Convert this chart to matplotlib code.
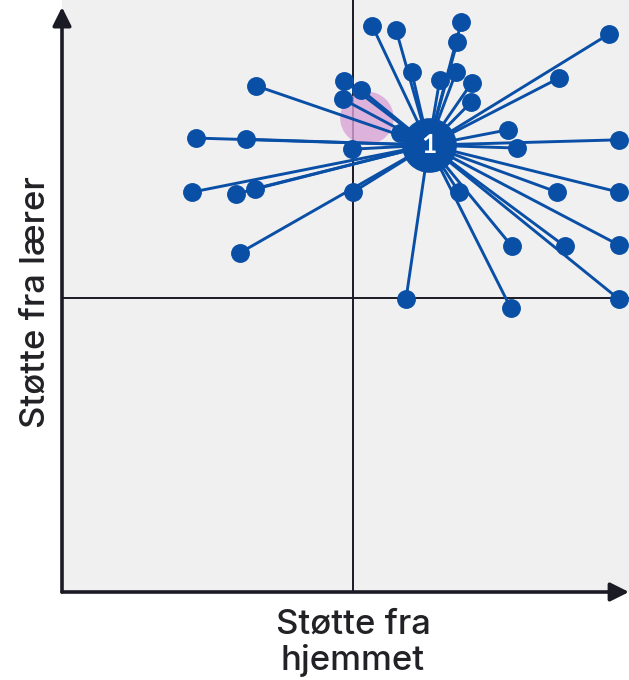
import matplotlib.pyplot as plt
from matplotlib.patches import Ellipse

# scores (home support, teacher support), divider at 5
hjem = [5.33, 5.74, 6.86, 6.79, 6.01, 6.49, 6.77, 7.04, 7.03, 9.40, 8.54, 3.33,
        4.85, 5.14, 4.83, 2.30, 3.16, 4.98, 7.66, 7.82, 9.57, 2.23, 2.99, 3.32,
        5.00, 6.82, 8.51, 9.57, 3.06, 7.73, 8.64, 9.57, 5.91, 7.71, 9.57, 5.81]
laerer = [9.63, 9.56, 9.69, 9.35, 8.84, 8.71, 8.84, 8.66, 8.33, 9.49, 8.74, 8.61,
          8.69, 8.54, 8.38, 7.72, 7.70, 7.53, 7.86, 7.55, 7.69, 6.80, 6.77, 6.86,
          6.80, 6.80, 6.80, 6.80, 5.77, 5.88, 5.88, 5.90, 4.98, 4.83, 4.98, 7.81]
hub = (6.30, 7.60)
hub_label = "1"
pink = (5.24, 8.06)

blue = "#0a4fa6"
dark = "#1b1b26"

fig = plt.figure(figsize=(6.29, 6.8), dpi=100)
ax = fig.add_axes([62 / 629, 88 / 680, 567 / 629, 592 / 680])
ax.set_facecolor("#f1f0f1")
ax.set_xlim(0, 567 / 58.2)
ax.set_ylim(0, 592 / 58.8)
for s in ax.spines.values():
    s.set_visible(False)
ax.set_xticks([])
ax.set_yticks([])

ax.axvline(5, color=dark, lw=1.4, zorder=1)
ax.axhline(5, color=dark, lw=1.4, zorder=1)

ax.add_patch(Ellipse(pink, 0.92, 0.9, color="#d9a3d6", alpha=0.8, lw=0, zorder=2))

for x, y in zip(hjem, laerer):
    ax.plot([hub[0], x], [hub[1], y], color=blue, lw=2.1, zorder=3, clip_on=False)
ax.scatter(hjem, laerer, s=185, color=blue, zorder=4, clip_on=False, linewidths=0)
ax.scatter([hub[0]], [hub[1]], s=1550, color=blue, zorder=5, linewidths=0)
ax.text(hub[0], hub[1], hub_label, color="white", fontsize=19, fontweight="bold",
        ha="center", va="center", zorder=6, family="Lato")

# axis arrows
ax.annotate("", xy=(0, 0.988), xytext=(0, 0), xycoords="axes fraction",
            arrowprops=dict(arrowstyle="-|>", lw=2.6, color=dark, mutation_scale=28,
                            shrinkA=0, shrinkB=0), zorder=7, annotation_clip=False)
ax.annotate("", xy=(1.0, 0), xytext=(0, 0), xycoords="axes fraction",
            arrowprops=dict(arrowstyle="-|>", lw=2.6, color=dark, mutation_scale=28,
                            shrinkA=0, shrinkB=0), zorder=7, annotation_clip=False)

fig.text(36 / 629, 1 - 302 / 680, "Støtte fra lærer", rotation=90, ha="center",
         va="center", fontsize=25, fontweight="medium", color="#222226", family="Inter")
fig.text(353 / 629, 1 - 643 / 680, "Støtte fra\nhjemmet", ha="center", va="center",
         fontsize=25, fontweight="medium", color="#222226", family="Inter",
         linespacing=1.15)

fig.savefig("out.png", dpi=100)
